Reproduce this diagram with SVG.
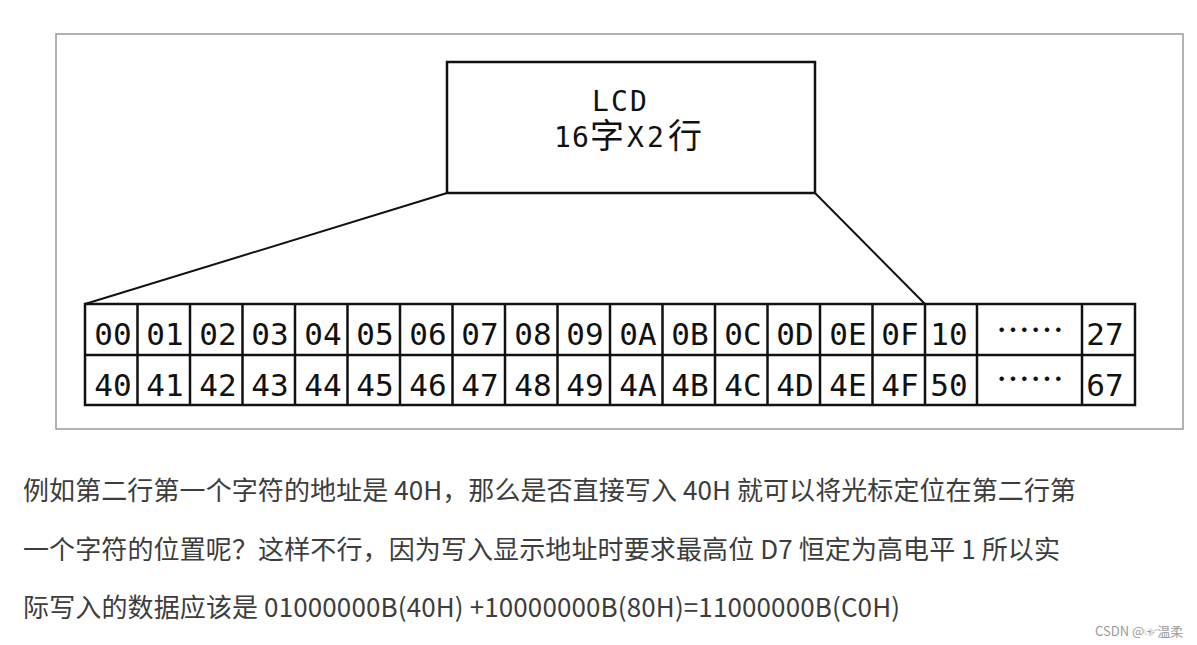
<svg xmlns="http://www.w3.org/2000/svg" width="1197" height="645" viewBox="0 0 1197 645">
<style>
.frame{fill:#fff;stroke:#9a9a9a;stroke-width:1.5}
.box{fill:#fff;stroke:#111;stroke-width:2.5}
.grid{fill:none;stroke:#111;stroke-width:2.5}
.conn{stroke:#111;stroke-width:2;fill:none}
.lcd{font-family:"DejaVu Sans Mono","Noto Sans CJK SC",monospace;font-size:28px;fill:#111}
.cjk{font-family:"Noto Sans CJK SC",sans-serif;font-size:34px}
.cell{font-family:"DejaVu Sans Mono","Liberation Mono",monospace;font-size:31px;fill:#111;text-anchor:middle}
.dots{font-family:"Noto Sans CJK SC",sans-serif;font-size:34px;fill:#111;text-anchor:middle}
.body{font-family:"Noto Sans CJK SC","Noto Sans",sans-serif;font-size:26px;fill:#3d3d3d}
.wm{font-family:"Noto Sans CJK SC","Liberation Sans",sans-serif;font-size:13px;fill:#9a9a9a}
</style>
<rect width="1197" height="645" fill="#fff"/>
<rect class="frame" x="56" y="34" width="1127" height="395"/>
<g id="connectors">
<line class="conn" x1="447" y1="193" x2="85" y2="304"/>
<line class="conn" x1="815" y1="193" x2="925" y2="304"/>
</g>
<g id="lcd">
<rect class="box" x="447" y="62" width="368" height="131"/>
<text class="lcd"><tspan x="592 611 630" y="111">LCD</tspan><tspan x="554" y="147">1</tspan><tspan x="572">6</tspan><tspan class="cjk" x="590" y="148">字</tspan><tspan x="627" y="147">X</tspan><tspan x="647">2</tspan><tspan class="cjk" x="668" y="148">行</tspan></text>
</g>
<g id="ddram">
<rect class="grid" x="85" y="304" width="1050" height="101"/>
<path class="grid" d="M85 355H1135 M137.5 304V405 M190 304V405 M242.5 304V405 M295 304V405 M347.5 304V405 M400 304V405 M452.5 304V405 M505 304V405 M557.5 304V405 M610 304V405 M662.5 304V405 M715 304V405 M767.5 304V405 M820 304V405 M872.5 304V405 M925 304V405 M977 304V405 M1082 304V405"/>
<g id="row1">
<text class="cell" x="113" y="345">00</text>
<text class="cell" x="165" y="345">01</text>
<text class="cell" x="218" y="345">02</text>
<text class="cell" x="270" y="345">03</text>
<text class="cell" x="323" y="345">04</text>
<text class="cell" x="375" y="345">05</text>
<text class="cell" x="428" y="345">06</text>
<text class="cell" x="480" y="345">07</text>
<text class="cell" x="533" y="345">08</text>
<text class="cell" x="585" y="345">09</text>
<text class="cell" x="638" y="345">0A</text>
<text class="cell" x="690" y="345">0B</text>
<text class="cell" x="743" y="345">0C</text>
<text class="cell" x="795" y="345">0D</text>
<text class="cell" x="848" y="345">0E</text>
<text class="cell" x="900" y="345">0F</text>
<text class="cell" x="949" y="345">10</text>
<text class="dots" x="1030" y="343">……</text>
<text class="cell" x="1105" y="345">27</text>
</g>
<g id="row2">
<text class="cell" x="113" y="396">40</text>
<text class="cell" x="165" y="396">41</text>
<text class="cell" x="218" y="396">42</text>
<text class="cell" x="270" y="396">43</text>
<text class="cell" x="323" y="396">44</text>
<text class="cell" x="375" y="396">45</text>
<text class="cell" x="428" y="396">46</text>
<text class="cell" x="480" y="396">47</text>
<text class="cell" x="533" y="396">48</text>
<text class="cell" x="585" y="396">49</text>
<text class="cell" x="638" y="396">4A</text>
<text class="cell" x="690" y="396">4B</text>
<text class="cell" x="743" y="396">4C</text>
<text class="cell" x="795" y="396">4D</text>
<text class="cell" x="848" y="396">4E</text>
<text class="cell" x="900" y="396">4F</text>
<text class="cell" x="949" y="396">50</text>
<text class="dots" x="1030" y="392">……</text>
<text class="cell" x="1105" y="396">67</text>
</g>
</g>
<g id="paragraph">
<text class="body" x="23" y="500" textLength="1053" lengthAdjust="spacing">例如第二行第一个字符的地址是 40H，那么是否直接写入 40H 就可以将光标定位在第二行第</text>
<text class="body" x="23" y="559" textLength="1037" lengthAdjust="spacing">一个字符的位置呢？这样不行，因为写入显示地址时要求最高位 D7 恒定为高电平 1 所以实</text>
<text class="body" x="23" y="617" textLength="877" lengthAdjust="spacing">际写入的数据应该是 01000000B(40H) +10000000B(80H)=11000000B(C0H)</text>
</g>
<text class="wm" x="1095" y="636">CSDN @☞温柔</text>
</svg>
